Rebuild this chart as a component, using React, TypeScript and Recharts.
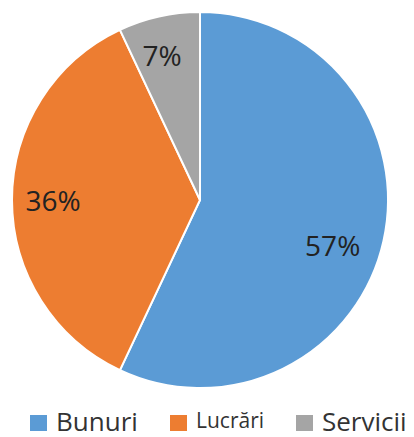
import { PieChart, Pie, Cell } from 'recharts'

const categories = ['Bunuri', 'Lucrări', 'Servicii']
const shares = [57, 36, 7]
const COLORS = ['#5b9bd5', '#ed7d31', '#a5a5a5']

// small nudges so labels sit where Excel put them
const labelRadius = [140, 147, 150]
const labelTurn = [-6, 0, 2]
const legendX = [30, 170, 296]
const legendFont = [26, 21, 26]

const data = categories.map((name, i) => ({ name, value: shares[i] }))
const RAD = Math.PI / 180

function renderLabel(props: any) {
  const { cx, cy, midAngle, index, value } = props
  const a = (midAngle + labelTurn[index]) * RAD
  const r = labelRadius[index]
  const x = cx + r * Math.cos(a)
  const y = cy - r * Math.sin(a)
  return (
    <text x={x} y={y} fill="#222" fontSize={28} textAnchor="middle" dominantBaseline="central"
      fontFamily="'Open Sans', sans-serif">
      {value}%
    </text>
  )
}

export default function App() {
  return (
    <div style={{ position: 'absolute', left: 0, top: 0, width: 414, height: 437, background: '#fff' }}>
      <PieChart width={414} height={437} margin={{ top: 0, right: 0, bottom: 0, left: 0 }}>
        <Pie
          data={data}
          dataKey="value"
          nameKey="name"
          cx={200}
          cy={200}
          outerRadius={188}
          startAngle={90}
          endAngle={-270}
          stroke="#fff"
          strokeWidth={2}
          label={renderLabel}
          labelLine={false}
          isAnimationActive={false}
        >
          {data.map((_, i) => <Cell key={i} fill={COLORS[i]} />)}
        </Pie>
      </PieChart>
      {categories.map((c, i) => (
        <div key={c} style={{ position: 'absolute', left: legendX[i], top: 404, height: 33, display: 'flex', alignItems: 'center' }}>
          <div style={{ width: 17, height: 16, background: COLORS[i], marginRight: 9, marginTop: 4 }} />
          <span style={{ fontFamily: "'Open Sans', sans-serif", fontSize: legendFont[i], color: '#333', lineHeight: 1 }}>{c}</span>
        </div>
      ))}
    </div>
  )
}
